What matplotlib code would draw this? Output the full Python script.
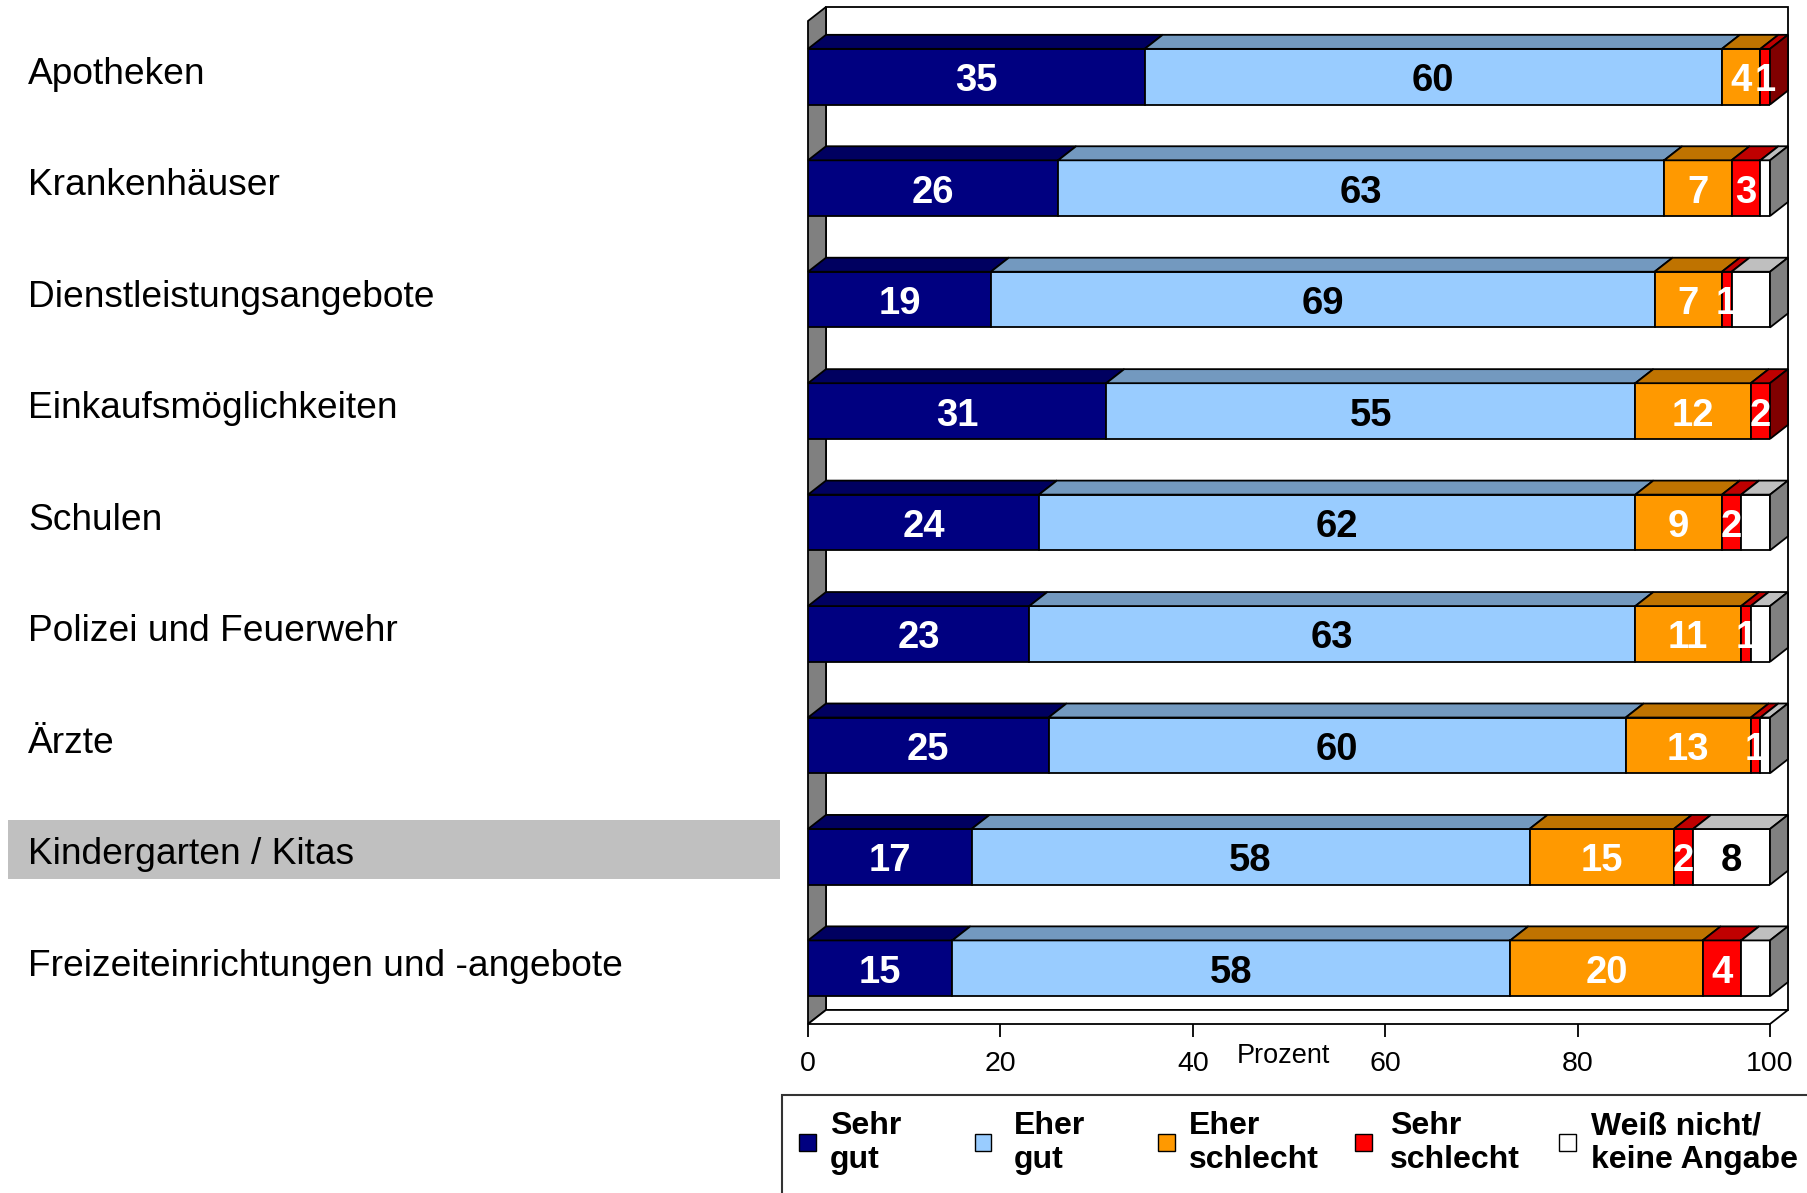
import matplotlib.pyplot as plt
from matplotlib.patches import Polygon, Rectangle
from matplotlib.transforms import blended_transform_factory
import numpy as np

plt.rcParams['font.family'] = ['Liberation Sans', 'DejaVu Sans']

# Werte in Prozent
categories = ['Apotheken', 'Krankenhäuser', 'Dienstleistungsangebote',
              'Einkaufsmöglichkeiten', 'Schulen', 'Polizei und Feuerwehr',
              'Ärzte', 'Kindergarten / Kitas',
              'Freizeiteinrichtungen und -angebote']
sehr_gut = [35, 26, 19, 31, 24, 23, 25, 17, 15]
eher_gut = [60, 63, 69, 55, 62, 63, 60, 58, 58]
eher_schlecht = [4, 7, 7, 12, 9, 11, 13, 15, 20]
sehr_schlecht = [1, 3, 1, 2, 2, 1, 1, 2, 4]
weiss_nicht = [0, 1, 4, 0, 3, 2, 1, 8, 3]

legend_labels = ['Sehr\ngut', 'Eher\ngut', 'Eher\nschlecht', 'Sehr\nschlecht',
                 'Weiß nicht/\nkeine Angabe']
ticks = [0, 20, 40, 60, 80, 100]
highlight = 'Kindergarten / Kitas'

series = [sehr_gut, eher_gut, eher_schlecht, sehr_schlecht, weiss_nicht]
# front, top, side, label colour
colors = [('#000080', '#000060', '#000040', 'white'),
          ('#99CCFF', '#7399BF', '#4D6680', 'black'),
          ('#FF9900', '#BF7300', '#804D00', 'white'),
          ('#FF0000', '#BF0000', '#800000', 'white'),
          ('#FFFFFF', '#BFBFBF', '#808080', 'black')]

W, H = 1807, 1193
DX, DY = 1.87, 0.126   # Tiefe des 3D-Effekts in Datenkoordinaten
LW = 1.3

fig = plt.figure(figsize=(W / 100, H / 100), dpi=100)
ax = fig.add_axes([808 / W, 1 - 1024 / H, 962 / W, 1003 / H])
ax.set_xlim(0, 100)
ax.set_ylim(8.5, -0.5)
ax.patch.set_visible(False)
for s in ax.spines.values():
    s.set_visible(False)
ax.set_yticks([])
ax.set_xticks(ticks)
ax.set_xticklabels([str(t) for t in ticks])
ax.tick_params(axis='x', length=9.5, width=1.3, pad=10, labelsize=20.5)

# Rückwand, Seitenwand, Boden
ax.add_patch(Rectangle((DX, -0.5 - DY), 100, 9, fc='white', ec='black',
                       lw=LW, clip_on=False, zorder=0))
ax.add_patch(Polygon([(0, -0.5), (DX, -0.5 - DY), (DX, 8.5 - DY), (0, 8.5)],
                     closed=True, fc='#808080', ec='black', lw=LW,
                     clip_on=False, zorder=1))
ax.add_patch(Polygon([(0, 8.5), (100, 8.5), (100 + DX, 8.5 - DY), (DX, 8.5 - DY)],
                     closed=True, fc='white', ec='black', lw=LW,
                     clip_on=False, zorder=1))

y = np.arange(len(categories))
h = 0.5
left = np.zeros(len(categories))
last = [None] * len(categories)
for k, vals in enumerate(series):
    vals = np.array(vals, dtype=float)
    front, top, side, tcol = colors[k]
    mask = vals > 0
    ax.barh(y[mask], vals[mask], left=left[mask], height=h, color=front,
            edgecolor='black', linewidth=LW, zorder=3)
    for i in y[mask]:
        x0, x1 = left[i], left[i] + vals[i]
        yt = i - h / 2
        ax.add_patch(Polygon([(x0, yt), (x1, yt), (x1 + DX, yt - DY), (x0 + DX, yt - DY)],
                             closed=True, fc=top, ec='black', lw=LW,
                             clip_on=False, zorder=3))
        last[i] = (x1, side)
        if k < 4 or vals[i] >= 5:
            ax.text((x0 + x1) / 2, i + 0.04, str(int(vals[i])), ha='center',
                    va='center', color=tcol, fontsize=27.5, fontweight='bold',
                    zorder=5)
    left += vals

# Seitenflächen am Ende der Balken
for i, (xe, side) in enumerate(last):
    yt = i - h / 2
    ax.add_patch(Polygon([(xe, yt), (xe + DX, yt - DY), (xe + DX, yt + h - DY), (xe, yt + h)],
                         closed=True, fc=side, ec='black', lw=LW,
                         clip_on=False, zorder=3))

ax.text(0.494, -0.032, 'Prozent', transform=ax.transAxes, ha='center',
        va='center', fontsize=19.5)

# Kategorienbeschriftung links
tr = blended_transform_factory(fig.transFigure, ax.transData)
for i, cat in enumerate(categories):
    if cat == highlight:
        fig.patches.append(Rectangle((8 / W, 1 - 879 / H), 772 / W, 59 / H,
                                     transform=fig.transFigure,
                                     fc='#C0C0C0', ec='none', zorder=-1))
    fig.text(28 / W, i - 0.02, cat, transform=tr, ha='left', va='center',
             fontsize=26.7)

# Legende
fig.patches.append(Rectangle((782 / W, 1 - 1300 / H), 1100 / W, 205 / H,
                             transform=fig.transFigure, fc='white',
                             ec='#333333', lw=1.5, zorder=-1))
leg_sq = [807, 983, 1166, 1363, 1567]
leg_tx = [830, 1014, 1189, 1390, 1591]
for k, lab in enumerate(legend_labels):
    fig.patches.append(Rectangle(((leg_sq[k] - 8.5) / W, 1 - 1150.5 / H), 17 / W, 17 / H,
                                 transform=fig.transFigure, fc=colors[k][0],
                                 ec='black', lw=1.0, zorder=1))
    fig.text(leg_tx[k] / W, 1 - 1143 / H, lab, ha='left', va='center',
             fontsize=23, fontweight='bold', linespacing=1.17)

fig.savefig('out.png', dpi=100)
